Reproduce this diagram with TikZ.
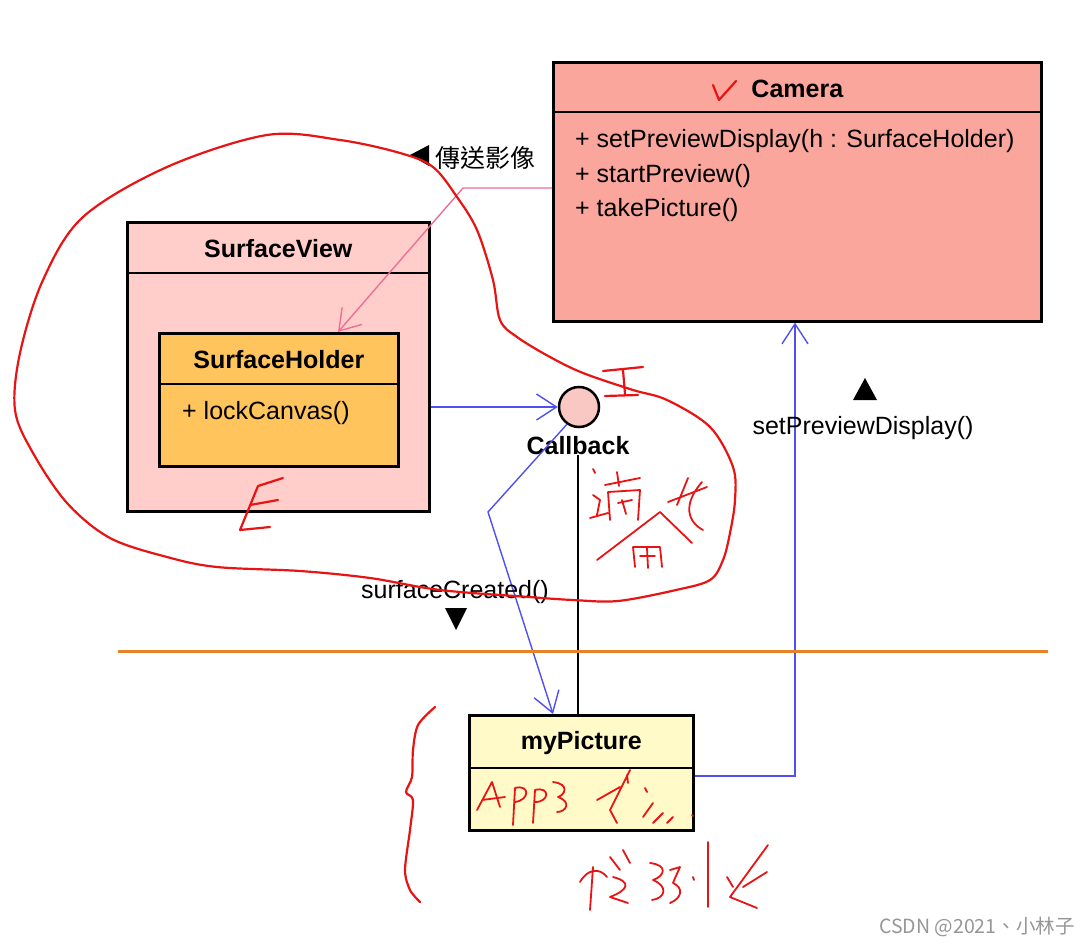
\documentclass[tikz,border=0pt]{standalone}
\usepackage{fontspec}
\setmainfont{Liberation Sans}
\newfontfamily\cjk{Noto Sans CJK TC}
\usepackage{tikz}
\usetikzlibrary{calc,positioning,arrows.meta}
\definecolor{camfill}{RGB}{250,166,156}
\definecolor{viewfill}{RGB}{255,206,203}
\definecolor{holderfill}{RGB}{255,196,92}
\definecolor{picfill}{RGB}{255,250,200}
\definecolor{cbfill}{RGB}{250,200,195}
\definecolor{linkblue}{RGB}{80,80,240}
\definecolor{linkpink}{RGB}{240,110,150}
\definecolor{inkred}{RGB}{232,20,20}
\definecolor{sepline}{RGB}{230,130,40}
\definecolor{wmgray}{RGB}{150,150,150}
\tikzset{
  cls/.style={draw, line width=2.6pt, inner sep=0pt, anchor=north west},
  cname/.style={font=\fontsize{25}{25}\selectfont\bfseries, inner sep=0pt},
  member/.style={font=\fontsize{25}{25}\selectfont, inner sep=0pt, anchor=west},
  msg/.style={font=\fontsize{25}{25}\selectfont, inner sep=0pt},
  bluelink/.style={draw=linkblue, line width=1.4pt, -{Straight Barb[length=20pt,width=26pt]}},
  pinklink/.style={draw=linkpink, line width=1.4pt, -{Straight Barb[length=20pt,width=26pt]}},
  ink/.style={draw=inkred, line width=2.2pt, line cap=round, line join=round}
}

\begin{document}
\begin{tikzpicture}[x=1pt,y=-1pt]
\useasboundingbox[fill=white] (0,0) rectangle (1091,944);

% classes
\node[cls, fill=camfill, minimum width=488pt, minimum height=259pt] (camera) at (552,61) {};
\draw[line width=1.5pt] (camera.west |- 0,112) -- (camera.east |- 0,112);
\node[cname] (camname) at (camera.north |- 0,89) {Camera};
\node[member] (campv) at (575,141) {+ setPreviewDisplay(h : SurfaceHolder)};
\node[member] (camsp) at (575,176) {+ startPreview()};
\node[member] (camtp) at (575,210) {+ takePicture()};

\node[cls, fill=viewfill, minimum width=302pt, minimum height=289pt] (view) at (126,221) {};
\draw[line width=1.5pt] (view.west |- 0,273) -- (view.east |- 0,273);
\node[cname] (viewname) at (view.north |- 0,249) {SurfaceView};

\node[cls, fill=holderfill, minimum width=239pt, minimum height=133pt] (holder) at (158,332) {};
\draw[line width=1.5pt] (holder.west |- 0,384) -- (holder.east |- 0,384);
\node[cname] (holdername) at (holder.north |- 0,360) {SurfaceHolder};
\node[member] (holderlc) at (182,413) {+ lockCanvas()};

\node[cls, fill=picfill, minimum width=224pt, minimum height=115pt] (pic) at (468,714) {};
\draw[line width=1.5pt] (pic.west |- 0,768) -- (pic.east |- 0,768);
\node[cname] (picname) at (pic.north |- 0,743) {myPicture};

% interface
\node[circle, draw, line width=2.5pt, fill=cbfill, minimum size=40pt, inner sep=0pt] (callback) at (579,407) {};
\node[cname] (cbname) at (578,446) {Callback};

% links
\draw[pinklink] (camera.west |- 0,188) -- (463,188) -- (338,0 |- holder.north);
\draw[bluelink] (view.east |- callback) -- (callback.west);
\draw[bluelink] (callback.-125) -- (488,512) -- (553,0 |- pic.north);
\draw[line width=1.3pt] (cbname.south) -- (cbname.south |- pic.north);
\draw[bluelink] (pic.east |- 0,776) -- (795,776) -- (795,0 |- camera.south);

% messages
\node[msg] (sendimg) at (485,158) {\cjk 傳送影像};
\fill (410,155) -- (429,145) -- (429,166) -- cycle;
\node[msg] (spd) at (863,428) {setPreviewDisplay()};
\fill (853,400) -- (865,378) -- (877,400) -- cycle;
\node[msg] (sc) at (455,592) {surfaceCreated()};
\fill (445,608) -- (467,608) -- (456,630) -- cycle;

\draw[draw=sepline, line width=3pt] (118,651) -- (1048,651);

\node[font=\cjk\fontsize{19.5}{19.5}\selectfont, text=wmgray, inner sep=0pt] (wm) at (977,927) {CSDN @2021、小林子};

% hand notes
\draw[ink] plot[smooth cycle, tension=0.55] coordinates {(267,135) (340,140) (400,153) (433,167) (457,197) (477,230) (493,280) (500,320) (517,337) (550,357) (583,373) (633,390) (667,400) (710,427) (733,467) (735,500) (730,533) (723,560) (710,580) (676,590) (618,601) (573,600) (529,597) (440,590) (370,578) (300,571) (217,567) (167,557) (110,538) (67,503) (33,453) (15,410) (20,353) (43,280) (83,217) (167,167)};
\draw[ink] (713,85) -- (719,100) -- (736,81);
\draw[ink] (603,371) -- (643,367) (623,370) -- (625,394) (605,396) -- (638,395);
\draw[ink] (283,478) -- (258,486) -- (240,530) -- (270,527) (250,505) -- (278,500);
\draw[ink] plot[smooth] coordinates {(435,707) (418,725) (413,750) (412,777) (406,792) (413,800) (410,830) (405,870) (410,890) (420,902)};
% notes near callback
\draw[ink, line width=1.8pt] (593,469) -- (595,473) (593,495) -- (600,500) -- (597,515) (590,518) -- (608,513)
  (605,485) -- (640,478) (617,472) -- (619,486) (608,492) -- (610,520) (608,492) -- (640,490) -- (638,520) (618,503) -- (632,500) (622,500) -- (626,514)
  (597,560) -- (660,512) -- (692,543) (633,547) -- (635,567) (633,547) -- (660,547) -- (662,567) (640,556) -- (655,556) (647,548) -- (648,568)
  (668,502) -- (707,487) (688,478) -- (677,505) (702,482) .. controls (682,505) and (688,522) .. (703,530);
% APP ...
\draw[ink, line width=1.8pt] (477,810) -- (492,782) -- (500,807) (482,800) -- (505,797)
  (513,825) -- (515,788) .. controls (530,784) and (530,800) .. (515,802)
  (533,823) -- (535,790) .. controls (550,786) and (550,802) .. (535,802)
  (553,782) .. controls (570,784) and (565,795) .. (558,797) .. controls (572,802) and (566,812) .. (557,812)
  (597,800) -- (620,787) (630,770) -- (610,810) -- (617,823) (627,775) -- (628,783)
  (645,788) -- (647,792) (643,817) -- (653,803) (653,823) -- (663,813) (667,823) -- (673,817) (692,815) -- (693,816);
% second line
\draw[ink, line width=1.8pt] (580,882) .. controls (588,868) and (600,868) .. (607,877) (593,867) -- (590,910)
  (610,857) -- (620,870) (613,877) .. controls (632,882) and (628,890) .. (610,897) -- (628,903) (623,850) -- (630,863)
  (650,863) .. controls (668,865) and (665,876) .. (653,880) .. controls (668,886) and (666,898) .. (652,900)
  (670,870) -- (680,867) .. controls (676,876) and (674,880) .. (673,883) .. controls (684,888) and (682,898) .. (670,903)
  (708,842) -- (708,907) (693,877) -- (694,880) (727,877) -- (733,887)
  (768,845) -- (730,897) -- (757,908) (767,872) -- (743,887);
\end{tikzpicture}
\end{document}
